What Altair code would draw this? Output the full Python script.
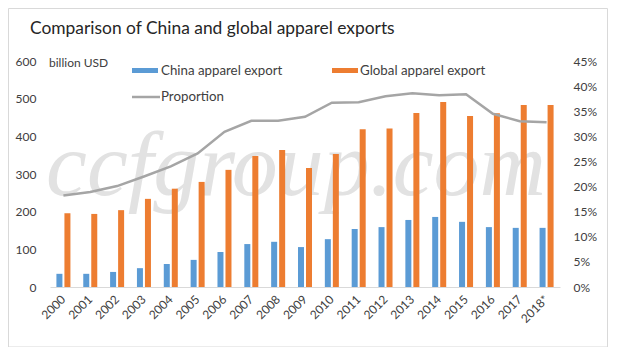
import altair as alt
import pandas as pd

years = ["2000", "2001", "2002", "2003", "2004", "2005", "2006", "2007", "2008", "2009",
         "2010", "2011", "2012", "2013", "2014", "2015", "2016", "2017", "2018*"]
china = [35, 35, 40, 50, 61, 72, 93, 114, 120, 106, 127, 154, 159, 178, 186, 173, 159, 157, 157]
world = [196, 194, 204, 234, 261, 279, 311, 348, 364, 316, 353, 419, 421, 462, 491, 454, 461, 483, 483]
proportion = [18.2, 18.9, 20.1, 22.0, 24.0, 26.6, 30.9, 33.1, 33.1, 33.9, 36.7, 36.8, 38.0,
              38.6, 38.2, 38.4, 34.5, 33.0, 32.8]

series = ["China apparel export", "Global apparel export"]
left_ticks = [0, 100, 200, 300, 400, 500, 600]
right_ticks = [0, 0.05, 0.10, 0.15, 0.20, 0.25, 0.30, 0.35, 0.40, 0.45]

FONT = "Lato"
TXT = "#404040"
BLUE = "#5b9bd5"
ORANGE = "#ed7d31"
GRAY = "#a5a5a5"

bars_df = pd.DataFrame(
    [{"year": y, "series": series[0], "value": v} for y, v in zip(years, china)]
    + [{"year": y, "series": series[1], "value": v} for y, v in zip(years, world)]
)
line_df = pd.DataFrame({"year": years, "prop": [p / 100 for p in proportion]})
one = pd.DataFrame({"a": [0]})

xscale = alt.Scale(domain=years, paddingInner=0.478, paddingOuter=0.239)
xaxis = alt.Axis(title=None, labelAngle=-45, labelAlign="right", labelBaseline="middle",
                 labelPadding=10, ticks=False, domainColor="#d9d9d9", domainWidth=1,
                 labelFont=FONT, labelFontSize=12, labelColor=TXT, grid=False)

border = alt.Chart(one).mark_rect(filled=False, stroke="#d9d9d9", strokeWidth=1).encode(
    x=alt.value(-41.5), x2=alt.value(557.5), y=alt.value(-52.5), y2=alt.value(286)
)

watermark = alt.Chart(one).mark_text(
    text="ccfgroup.com", font="Liberation Serif", fontStyle="italic", fontSize=92,
    color="#e2e2e2", align="center", baseline="alphabetic"
).encode(x=alt.value(246), y=alt.value(134))

bars = alt.Chart(bars_df).mark_bar().encode(
    x=alt.X("year:N", scale=xscale, axis=xaxis, sort=years),
    xOffset=alt.XOffset("series:N", scale=alt.Scale(domain=series, paddingInner=0.25, paddingOuter=0)),
    y=alt.Y("value:Q", scale=alt.Scale(domain=[0, 600], nice=False),
            axis=alt.Axis(title=None, values=left_ticks, domain=False, ticks=False, grid=False,
                          labelPadding=14, labelFont=FONT, labelFontSize=12, labelColor=TXT)),
    color=alt.Color("series:N", scale=alt.Scale(domain=series, range=[BLUE, ORANGE]), legend=None),
)

line = alt.Chart(line_df).mark_line(color=GRAY, strokeWidth=2.5).encode(
    x=alt.X("year:N", scale=xscale, axis=xaxis, sort=years),
    y=alt.Y("prop:Q", scale=alt.Scale(domain=[0, 0.45], nice=False),
            axis=alt.Axis(title=None, orient="right", values=right_ticks, format=".0%",
                          domain=False, ticks=False, grid=False, labelAlign="left",
                          labelPadding=13, labelFont=FONT, labelFontSize=12, labelColor=TXT)),
)

title = alt.Chart(one).mark_text(
    text="Comparison of China and global apparel exports", font=FONT, fontSize=17.4,
    color="#262626", align="left", baseline="middle"
).encode(x=alt.value(-20), y=alt.value(-32))

unit = alt.Chart(one).mark_text(
    text="billion  USD", font=FONT, fontSize=12, color=TXT, align="left", baseline="middle"
).encode(x=alt.value(-1), y=alt.value(2))

leg_blue = alt.Chart(one).mark_rect(color=BLUE).encode(
    x=alt.value(82), x2=alt.value(108), y=alt.value(7), y2=alt.value(12))
leg_orange = alt.Chart(one).mark_rect(color=ORANGE).encode(
    x=alt.value(282), x2=alt.value(308), y=alt.value(7), y2=alt.value(12))
leg_gray = alt.Chart(one).mark_rule(color=GRAY, strokeWidth=2.5).encode(
    x=alt.value(82), x2=alt.value(110), y=alt.value(36))
leg_t1 = alt.Chart(one).mark_text(text=series[0], font=FONT, fontSize=13.3, color=TXT,
                                  align="left", baseline="middle").encode(
    x=alt.value(111), y=alt.value(10))
leg_t2 = alt.Chart(one).mark_text(text=series[1], font=FONT, fontSize=13.3, color=TXT,
                                  align="left", baseline="middle").encode(
    x=alt.value(310), y=alt.value(10))
leg_t3 = alt.Chart(one).mark_text(text="Proportion", font=FONT, fontSize=13.3, color=TXT,
                                  align="left", baseline="middle").encode(
    x=alt.value(111), y=alt.value(36))

chart = alt.layer(
    border, watermark, bars, line, title, unit,
    leg_blue, leg_orange, leg_gray, leg_t1, leg_t2, leg_t3
).resolve_scale(y="independent").properties(
    width=510, height=226,
    padding={"left": 42, "top": 53, "right": 50, "bottom": 60},
    autosize="none",
    background="white",
).configure_view(stroke=None)

chart.save("out.html", embed_options={"renderer": "svg", "actions": False})
